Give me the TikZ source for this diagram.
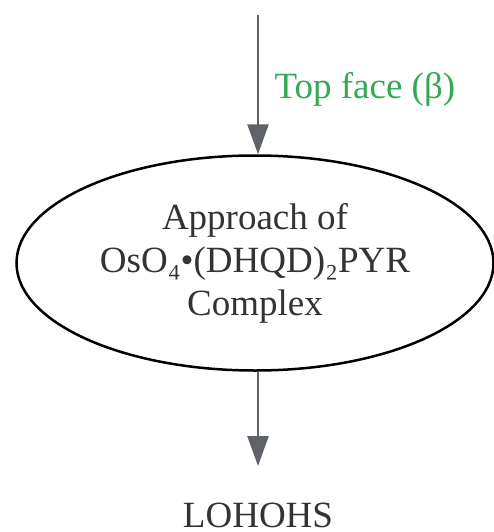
\documentclass[tikz,border=0pt]{standalone}
\usepackage{fontspec}
\setmainfont{Liberation Serif}
\usetikzlibrary{shapes.geometric,arrows.meta}
\definecolor{txt}{HTML}{333333}
\definecolor{grn}{HTML}{34A853}
\definecolor{arr}{HTML}{5F6368}
\begin{document}
\begin{tikzpicture}[x=1pt,y=-1pt,
  conn/.style={draw=arr,line width=2.5pt,-{Triangle[length=30pt,width=21pt]}},
  lbl/.style={font=\fontsize{37}{43}\selectfont,text=txt,align=center}]
\useasboundingbox (0,0) rectangle (494,532);
\coordinate (start) at (258,15);
\node[ellipse,draw=black,line width=2.5pt,minimum width=477pt,minimum height=215pt,inner sep=0pt,lbl] (cx) at (255,263) {Approach of\\OsO₄•(DHQD)₂PYR\\Complex};
\node[lbl,anchor=base] (res) at (258,527) {LOHOHS};
\coordinate (end) at (258,466);
\draw[conn] (start) -- (start|-cx.north) node[pos=0.52,right=12pt,yshift=-2pt,font=\fontsize{37}{43}\selectfont,text=grn] (tf) {Top face (β)};
\draw[conn] (cx.south-|start) -- (end);
\end{tikzpicture}
\end{document}
